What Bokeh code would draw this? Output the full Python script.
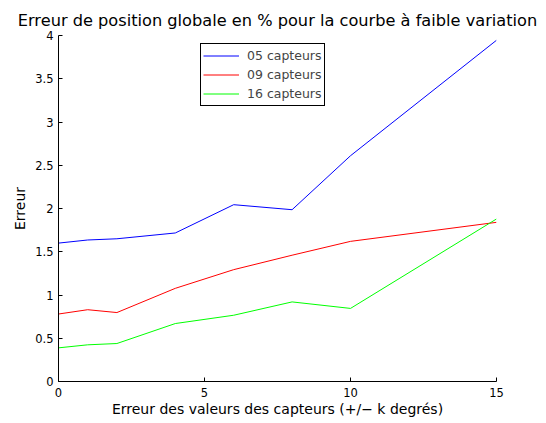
from bokeh.plotting import figure
from bokeh.embed import file_html
from bokeh.resources import INLINE
from bokeh.models import Range1d, FixedTicker, CustomJSTickFormatter, Legend, LegendItem, Title

x_vals = [0, 1, 2, 4, 6, 8, 10, 15]
y_05 = [1.60, 1.636, 1.65, 1.717, 2.044, 1.986, 2.61, 3.945]
y_09 = [0.78, 0.83, 0.797, 1.077, 1.293, 1.46, 1.62, 1.84]
y_16 = [0.389, 0.424, 0.439, 0.67, 0.766, 0.92, 0.845, 1.879]
labels = ["05 capteurs", "09 capteurs", "16 capteurs"]
colors = ["#0000ff", "#ff0000", "#00ff00"]
x_ticks = [0, 5, 10, 15]
y_ticks = [0, 0.5, 1, 1.5, 2, 2.5, 3, 3.5, 4]

FONT = "DejaVu Sans"

p = figure(width=546, height=423, output_backend="svg", toolbar_location=None,
           x_range=Range1d(0, 15), y_range=Range1d(0, 4),
           min_border_left=58, min_border_right=50, min_border_top=35, min_border_bottom=42)
p.title = Title(text="Erreur de position globale en % pour la courbe à faible variation",
                text_font=FONT, text_font_size="16.2px", text_font_style="normal",
                align="center", standoff=12, text_color="black")
p.outline_line_color = None
p.xgrid.visible = False
p.ygrid.visible = False

renderers = []
for ys, c in zip([y_05, y_09, y_16], colors):
    r = p.line(x_vals, ys, line_color=c, line_width=1)
    renderers.append(r)

for ax, ticks in ((p.xaxis[0], x_ticks), (p.yaxis[0], y_ticks)):
    ax.ticker = FixedTicker(ticks=ticks)
    ax.formatter = CustomJSTickFormatter(code="return tick.toString();")
    ax.major_tick_in = 4
    ax.major_tick_out = 0
    ax.minor_tick_line_color = None
    ax.axis_line_color = "black"
    ax.major_tick_line_color = "black"
    ax.major_label_text_font = FONT
    ax.major_label_text_font_size = "11.5px"
    ax.major_label_text_color = "black"
    ax.axis_label_text_font = FONT
    ax.axis_label_text_font_size = "14px"
    ax.axis_label_text_font_style = "normal"
    ax.axis_label_text_color = "black"

p.xaxis.axis_label = "Erreur des valeurs des capteurs (+/\u2212 k degrés)"
p.yaxis.axis_label = "Erreur"
p.xaxis.major_label_standoff = 6
p.xaxis.axis_label_standoff = 1
p.yaxis.major_label_standoff = 5
p.yaxis.axis_label_standoff = 4

legend = Legend(items=[LegendItem(label=l, renderers=[r]) for l, r in zip(labels, renderers)],
                location=(142, 275), label_text_font=FONT, label_text_font_size="12.5px",
                label_height=19, glyph_height=19, glyph_width=36, label_standoff=8,
                spacing=0, padding=2, margin=0, border_line_color="black",
                border_line_width=1, border_line_alpha=1, background_fill_alpha=1)
p.add_layout(legend, "center")

open("out.html", "w").write(file_html(p, INLINE))
